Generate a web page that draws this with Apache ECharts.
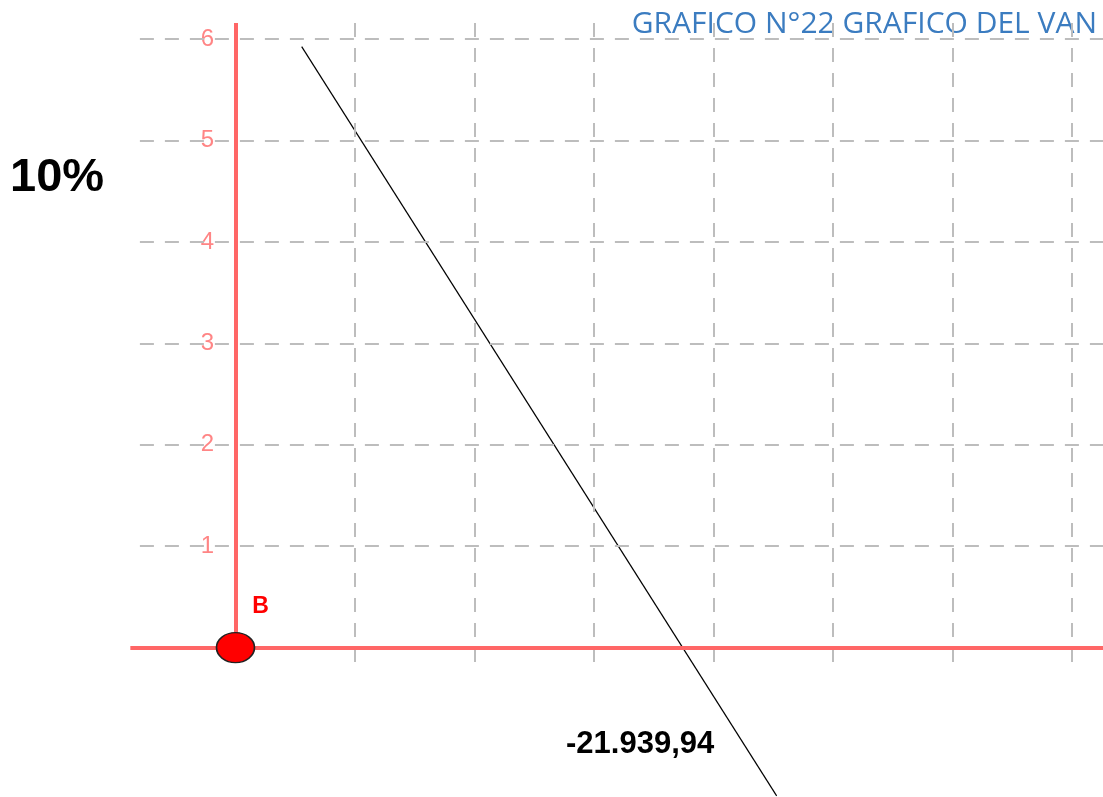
<!DOCTYPE html>
<html>
<head>
<meta charset="utf-8">
<script src="https://cdn.jsdelivr.net/npm/echarts@6/dist/echarts.min.js"></script>
<style>
  html, body { margin: 0; padding: 0; background: #fff; }
  #chart { width: 1103px; height: 797px; }
</style>
</head>
<body>
<div id="chart"></div>
<script>
// valores
const gridXValues = [1, 2, 3, 4, 5, 6, 7];
const yTickValues = [1, 2, 3, 4, 5, 6];
const vanLine = [[0.554, 5.927], [4.529, -1.462]];
const pointB = [[0, 0]];
const titleText = "GRAFICO N°22 GRAFICO DEL VAN";
const rateText = "10%";
const vanText = "-21.939,94";

// limites de la vista
const xMin = -1, xMax = 7.26;
const yMin = -1, yMax = 6.16;
const gridLeftX = -0.8, gridBottomY = -0.17;

let myChart = echarts.init(document.getElementById("chart"));

let dashed = { color: "#bdbdbd", width: 2, type: [14, 11] };
let red = { color: "#ff6666", width: 4, type: "solid" };

let gridLines = [];
gridXValues.forEach((x) => {
  gridLines.push([{ coord: [x, yMax], lineStyle: dashed }, { coord: [x, gridBottomY] }]);
});
yTickValues.forEach((y) => {
  gridLines.push([{ coord: [gridLeftX, y], lineStyle: dashed }, { coord: [xMax, y] }]);
});
// ejes rojos
gridLines.push([{ coord: [-0.88, 0], lineStyle: red }, { coord: [xMax, 0] }]);
gridLines.push([{ coord: [0, 0], lineStyle: red }, { coord: [0, yMax] }]);

let option = {
  animation: false,
  grid: { left: 116, right: 0, top: 23, bottom: 48 },
  xAxis: {
    type: "value",
    min: xMin,
    max: xMax,
    axisLine: { show: false },
    axisTick: { show: false },
    axisLabel: { show: false },
    splitLine: { show: false }
  },
  yAxis: {
    type: "value",
    min: yMin,
    max: yMax,
    interval: 1,
    offset: -120,
    axisLine: { show: false, onZero: false },
    axisTick: { show: false },
    splitLine: { show: false },
    axisLabel: {
      color: "#ff8585",
      fontSize: 24,
      fontFamily: "Liberation Sans",
      margin: 22,
      formatter: (v) => (yTickValues.includes(v) ? String(v) : "")
    }
  },
  graphic: [
    {
      type: "text",
      right: 6,
      top: 9,
      style: {
        text: titleText,
        fill: "#3b7cc0",
        font: "30px 'Open Sans'"
      }
    },
    {
      type: "text",
      left: 10,
      top: 155,
      style: {
        text: rateText,
        fill: "#000",
        font: "bold 47px 'Liberation Sans'"
      }
    },
    {
      type: "text",
      left: 566,
      top: 729,
      style: {
        text: vanText,
        fill: "#000",
        font: "bold 31px 'Liberation Sans'"
      }
    }
  ],
  series: [
    {
      type: "scatter",
      data: [],
      silent: true,
      markLine: {
        silent: true,
        symbol: ["none", "none"],
        label: { show: false },
        data: gridLines
      }
    },
    {
      type: "line",
      data: vanLine,
      clip: false,
      symbol: "none",
      silent: true,
      lineStyle: { color: "#000", width: 1.2 }
    },
    {
      type: "scatter",
      data: pointB,
      z: 10,
      symbol: "circle",
      symbolSize: [38, 30],
      itemStyle: { color: "#ff0000", opacity: 1, borderColor: "#222", borderWidth: 1.5 },
      label: {
        show: true,
        formatter: "B",
        position: "inside",
        offset: [25, -41],
        color: "#ff0000",
        fontSize: 23,
        fontWeight: "bold",
        fontFamily: "Liberation Sans"
      }
    }
  ]
};
myChart.setOption(option);
</script>
</body>
</html>
